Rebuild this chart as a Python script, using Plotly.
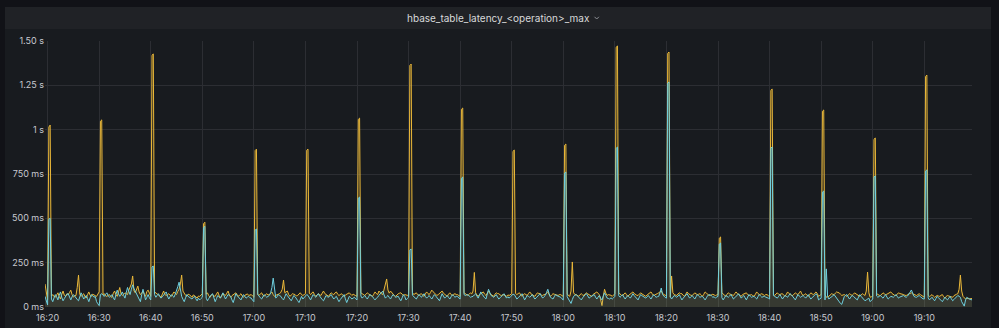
import pandas as pd
import plotly.graph_objects as go

# Sample times: one point every 15 s, 40 points per 10-minute row
START = "2021-03-10 16:19:30"
STEP = "15s"

# hbase_table_latency max, series A (ms), one row per 10 minutes
lat_a_rows = [
    [130, 85, 40, 1015, 1026, 62, 70, 58, 55, 68, 80, 60, 45, 72, 90, 66, 60, 75, 70, 82,
     95, 70, 55, 64, 65, 110, 180, 72, 60, 68, 75, 58, 50, 70, 85, 66, 60, 72, 70, 64],
    [60, 72, 85, 1048, 1055, 70, 75, 62, 60, 66, 70, 58, 55, 78, 90, 70, 60, 85, 110, 74,
     65, 72, 80, 75, 70, 95, 120, 130, 175, 92, 80, 100, 118, 85, 70, 78, 90, 72, 60, 88],
    [95, 78, 60, 1420, 1427, 85, 80, 72, 70, 62, 55, 74, 90, 70, 65, 70, 75, 66, 60, 72,
     85, 76, 70, 88, 100, 130, 180, 90, 75, 66, 60, 72, 70, 62, 55, 68, 65, 58, 50, 62],
    [60, 68, 75, 470, 478, 72, 80, 64, 55, 66, 70, 62, 60, 74, 85, 66, 50, 62, 75, 70,
     65, 78, 90, 68, 55, 64, 70, 76, 80, 70, 60, 68, 75, 62, 55, 66, 70, 74, 65, 70],
    [70, 62, 55, 882, 890, 70, 65, 74, 80, 66, 60, 70, 75, 68, 70, 78, 85, 70, 60, 66,
     70, 72, 75, 84, 100, 152, 80, 86, 90, 70, 60, 68, 75, 72, 70, 62, 65, 74, 80, 70],
    [65, 70, 75, 884, 890, 78, 70, 80, 85, 70, 60, 68, 75, 70, 65, 78, 90, 76, 70, 64,
     60, 72, 80, 74, 70, 80, 85, 72, 65, 70, 75, 66, 60, 68, 70, 76, 80, 70, 65, 72],
    [70, 64, 60, 1058, 1065, 80, 75, 68, 65, 72, 80, 74, 70, 64, 60, 72, 85, 76, 70, 90,
     80, 74, 70, 96, 120, 158, 96, 78, 90, 80, 70, 64, 60, 70, 75, 78, 80, 72, 65, 70],
    [70, 66, 65, 1362, 1370, 82, 70, 76, 80, 70, 65, 72, 75, 66, 60, 74, 85, 76, 70, 82,
     95, 86, 80, 72, 65, 70, 75, 84, 90, 78, 70, 64, 60, 72, 80, 70, 65, 72, 75, 70],
    [70, 64, 60, 1115, 1122, 80, 75, 68, 65, 72, 80, 74, 90, 195, 80, 68, 60, 70, 75, 80,
     85, 72, 65, 78, 90, 76, 70, 64, 60, 72, 80, 76, 75, 68, 65, 70, 70, 66, 60, 68],
    [65, 72, 75, 878, 885, 76, 70, 76, 80, 68, 60, 70, 75, 70, 65, 76, 85, 74, 70, 64,
     60, 72, 80, 76, 75, 68, 65, 70, 70, 78, 85, 70, 60, 68, 75, 72, 70, 66, 65, 70],
    [70, 64, 60, 912, 919, 72, 65, 60, 90, 254, 80, 70, 70, 64, 60, 70, 75, 68, 65, 74,
     80, 74, 70, 64, 60, 70, 75, 82, 85, 76, 70, 40, 8, 60, 100, 78, 65, 70, 70, 66],
    [60, 70, 75, 1465, 1472, 82, 70, 66, 65, 74, 80, 70, 60, 68, 75, 80, 85, 76, 70, 66,
     65, 72, 80, 74, 70, 64, 60, 68, 75, 80, 85, 74, 65, 68, 70, 76, 80, 84, 90, 76],
    [70, 66, 65, 1430, 1438, 55, 175, 80, 70, 68, 65, 74, 80, 76, 75, 66, 60, 72, 85, 76,
     70, 66, 65, 72, 80, 74, 70, 72, 75, 68, 60, 72, 85, 78, 70, 66, 65, 70, 72, 68],
    [65, 68, 70, 388, 395, 80, 75, 66, 60, 72, 80, 74, 70, 66, 65, 76, 85, 76, 70, 64,
     60, 70, 75, 78, 80, 70, 65, 68, 70, 64, 60, 72, 85, 76, 70, 72, 75, 70, 65, 70],
    [70, 64, 60, 1222, 1229, 72, 65, 74, 80, 72, 70, 74, 75, 66, 60, 72, 85, 76, 70, 66,
     65, 72, 80, 74, 70, 80, 90, 74, 65, 70, 75, 66, 60, 70, 80, 74, 70, 78, 85, 76],
    [60, 66, 70, 1104, 1111, 70, 55, 58, 60, 68, 75, 72, 70, 78, 85, 82, 80, 72, 65, 68,
     70, 64, 60, 68, 75, 70, 65, 72, 80, 74, 70, 64, 60, 68, 75, 70, 65, 90, 197, 80],
    [55, 58, 60, 946, 953, 76, 70, 66, 65, 72, 80, 74, 70, 72, 75, 80, 85, 76, 70, 66,
     65, 72, 80, 76, 75, 72, 70, 66, 65, 70, 75, 78, 80, 74, 70, 66, 65, 70, 75, 70],
    [65, 60, 55, 1300, 1308, 66, 60, 64, 70, 62, 55, 60, 65, 62, 60, 66, 70, 58, 50, 60,
     65, 62, 60, 58, 55, 64, 70, 72, 75, 100, 180, 90, 60, 52, 45, 48, 50, 46, 45, 48],
]

# Series B (ms)
lat_b_rows = [
    [60, 30, 12, 495, 500, 45, 30, 52, 70, 58, 40, 66, 85, 55, 35, 48, 60, 72, 75, 56,
     40, 58, 70, 62, 50, 42, 35, 60, 80, 64, 45, 55, 65, 48, 30, 52, 70, 64, 55, 60],
    [30, 18, 8, 70, 75, 66, 60, 72, 80, 64, 55, 62, 70, 52, 40, 70, 95, 74, 60, 72,
     85, 66, 50, 80, 110, 88, 70, 100, 125, 104, 90, 74, 60, 44, 30, 70, 100, 72, 40, 55],
    [70, 52, 40, 226, 231, 70, 55, 66, 75, 60, 50, 58, 65, 76, 85, 62, 45, 58, 70, 62,
     55, 72, 90, 115, 140, 92, 60, 44, 30, 52, 70, 60, 55, 50, 45, 54, 60, 46, 35, 50],
    [40, 48, 55, 448, 455, 50, 35, 48, 60, 70, 75, 52, 30, 48, 65, 58, 50, 66, 80, 62,
     45, 58, 70, 66, 60, 40, 25, 50, 75, 64, 55, 46, 40, 56, 70, 60, 50, 56, 60, 52],
    [50, 38, 30, 434, 440, 72, 60, 52, 45, 58, 70, 62, 55, 60, 65, 80, 110, 163, 90, 50,
     58, 70, 64, 60, 48, 40, 58, 75, 64, 55, 44, 35, 50, 65, 58, 50, 36, 25, 44, 60],
    [45, 52, 60, 70, 65, 50, 40, 56, 70, 62, 55, 66, 75, 62, 50, 42, 35, 52, 65, 58,
     55, 64, 70, 56, 45, 54, 60, 44, 30, 42, 50, 62, 70, 46, 25, 42, 60, 54, 45, 50],
    [55, 46, 40, 614, 620, 62, 50, 58, 65, 54, 45, 58, 70, 64, 60, 48, 40, 50, 55, 66,
     75, 84, 90, 68, 50, 58, 65, 54, 45, 60, 70, 62, 55, 58, 60, 46, 35, 52, 70, 60],
    [40, 48, 55, 322, 327, 66, 60, 52, 45, 58, 70, 62, 55, 66, 75, 60, 50, 58, 65, 54,
     45, 58, 70, 62, 55, 44, 35, 56, 75, 62, 50, 58, 65, 54, 45, 58, 70, 62, 55, 60],
    [60, 50, 45, 726, 733, 70, 65, 68, 70, 62, 55, 58, 60, 68, 75, 62, 50, 68, 85, 72,
     60, 52, 45, 72, 100, 82, 65, 60, 55, 62, 70, 56, 45, 52, 60, 68, 75, 62, 50, 58],
    [50, 58, 65, 72, 70, 56, 45, 52, 60, 68, 75, 58, 40, 52, 65, 60, 55, 62, 70, 56,
     45, 52, 60, 68, 75, 62, 50, 58, 65, 82, 100, 76, 55, 50, 45, 58, 70, 64, 60, 56],
    [55, 46, 40, 755, 761, 58, 45, 30, 20, 42, 60, 66, 70, 62, 55, 46, 40, 52, 65, 70,
     75, 62, 50, 56, 60, 66, 70, 56, 45, 56, 65, 50, 40, 62, 80, 64, 50, 48, 45, 52],
    [45, 52, 60, 895, 902, 64, 55, 62, 70, 56, 45, 56, 65, 58, 50, 62, 75, 64, 55, 48,
     40, 56, 70, 64, 60, 54, 50, 58, 65, 54, 45, 58, 70, 62, 55, 58, 60, 80, 107, 70],
    [60, 54, 50, 1262, 1269, 58, 45, 56, 65, 60, 55, 62, 70, 54, 40, 50, 60, 68, 75, 62,
     50, 58, 65, 54, 45, 58, 70, 62, 55, 58, 60, 50, 40, 52, 65, 68, 70, 62, 55, 58],
    [50, 56, 60, 355, 361, 52, 40, 52, 65, 60, 55, 62, 70, 58, 45, 52, 60, 68, 75, 62,
     50, 58, 65, 52, 40, 56, 70, 62, 55, 58, 60, 52, 45, 58, 70, 62, 55, 58, 60, 56],
    [55, 50, 45, 896, 902, 64, 60, 54, 50, 60, 70, 58, 45, 56, 65, 60, 55, 66, 75, 68,
     60, 50, 40, 56, 70, 62, 55, 60, 65, 58, 50, 60, 70, 56, 45, 52, 60, 68, 75, 66],
    [40, 46, 50, 648, 654, 40, 215, 60, 45, 52, 55, 62, 70, 60, 50, 34, 26, 20, 15, 40,
     60, 66, 70, 56, 45, 56, 65, 60, 55, 46, 40, 56, 70, 60, 50, 42, 35, 40, 45, 50],
    [30, 38, 45, 733, 739, 62, 55, 60, 65, 56, 50, 60, 70, 56, 45, 52, 60, 58, 55, 62,
     70, 60, 50, 56, 60, 62, 65, 58, 55, 62, 70, 84, 96, 74, 60, 56, 55, 60, 65, 58],
    [50, 46, 45, 767, 773, 52, 40, 48, 55, 44, 35, 48, 60, 52, 45, 38, 30, 42, 55, 46,
     40, 50, 60, 46, 35, 42, 50, 58, 65, 60, 55, 30, 12, 5, 40, 55, 48, 45, 42, 40],
]

y_tick_vals = [0, 250, 500, 750, 1000, 1250, 1500]
y_tick_text = ["0 ms", "250 ms", "500 ms", "750 ms", "1 s", "1.25 s", "1.50 s"]

panel_title = "hbase_table_latency_&lt;operation&gt;_max"

lat_a = [v for row in lat_a_rows for v in row]
lat_b = [v for row in lat_b_rows for v in row]
times = pd.date_range(START, periods=len(lat_a), freq=STEP)

W, H = 999, 328
L, R, T, B = 45, 972, 41, 307


def px(x):
    return (x - L) / (R - L)


def py(y):
    return (B - y) / (B - T)


fig = go.Figure()
fig.add_trace(go.Scatter(
    x=times, y=lat_a, mode="lines", name="A",
    line=dict(color="#EAB839", width=1),
    fill="tozeroy", fillcolor="rgba(234,184,57,0.12)",
))
fig.add_trace(go.Scatter(
    x=times, y=lat_b, mode="lines", name="B",
    line=dict(color="#6ED0E0", width=1),
    fill="tozeroy", fillcolor="rgba(110,208,224,0.08)",
))

# Panel body and header band
shapes = [
    dict(type="rect", xref="paper", yref="paper", layer="below",
         x0=px(5), x1=px(991), y0=py(340), y1=py(7),
         fillcolor="#181b1f", line=dict(width=0)),
    dict(type="rect", xref="paper", yref="paper", layer="below",
         x0=px(5), x1=px(991), y0=py(29), y1=py(7),
         fillcolor="#202226", line=dict(width=0)),
    # dropdown chevron next to the title
    dict(type="path", xref="paper", yref="paper", layer="above",
         path=f"M {px(594.5)} {py(16.8)} L {px(596.7)} {py(19)} L {px(598.9)} {py(16.8)}",
         line=dict(color="#8e9096", width=1)),
]

fig.update_layout(
    width=W, height=H,
    margin=dict(l=L, r=W - R, t=T, b=H - B, pad=0, autoexpand=False),
    paper_bgcolor="#111217",
    plot_bgcolor="rgba(0,0,0,0)",
    showlegend=False,
    font=dict(family="Inter, Roboto, sans-serif", color="#c7c9cf", size=9),
    shapes=shapes,
    annotations=[dict(
        text=panel_title, xref="paper", yref="paper",
        x=px(498), y=py(18), xanchor="center", yanchor="middle",
        showarrow=False,
        font=dict(size=10, color="#d8d9da", family="Inter, Roboto, sans-serif"),
    )],
    xaxis=dict(
        type="date",
        range=[times[0], times[-1]],
        tickformat="%H:%M", dtick=600000, tick0="2021-03-10 16:20:00",
        showgrid=True, gridcolor="#2c2e33", gridwidth=1,
        zeroline=False, showline=False, ticks="",
        ticklabelstandoff=4, automargin=False,
        tickfont=dict(size=9, color="#c7c9cf"),
        fixedrange=True,
    ),
    yaxis=dict(
        range=[0, 1500],
        tickvals=y_tick_vals, ticktext=y_tick_text,
        showgrid=True, gridcolor="#2c2e33", gridwidth=1,
        zeroline=False, showline=False, ticks="",
        automargin=False,
        tickfont=dict(size=9, color="#c7c9cf"),
        fixedrange=True,
    ),
)

fig.write_html("out.html", config=dict(displayModeBar=False))
